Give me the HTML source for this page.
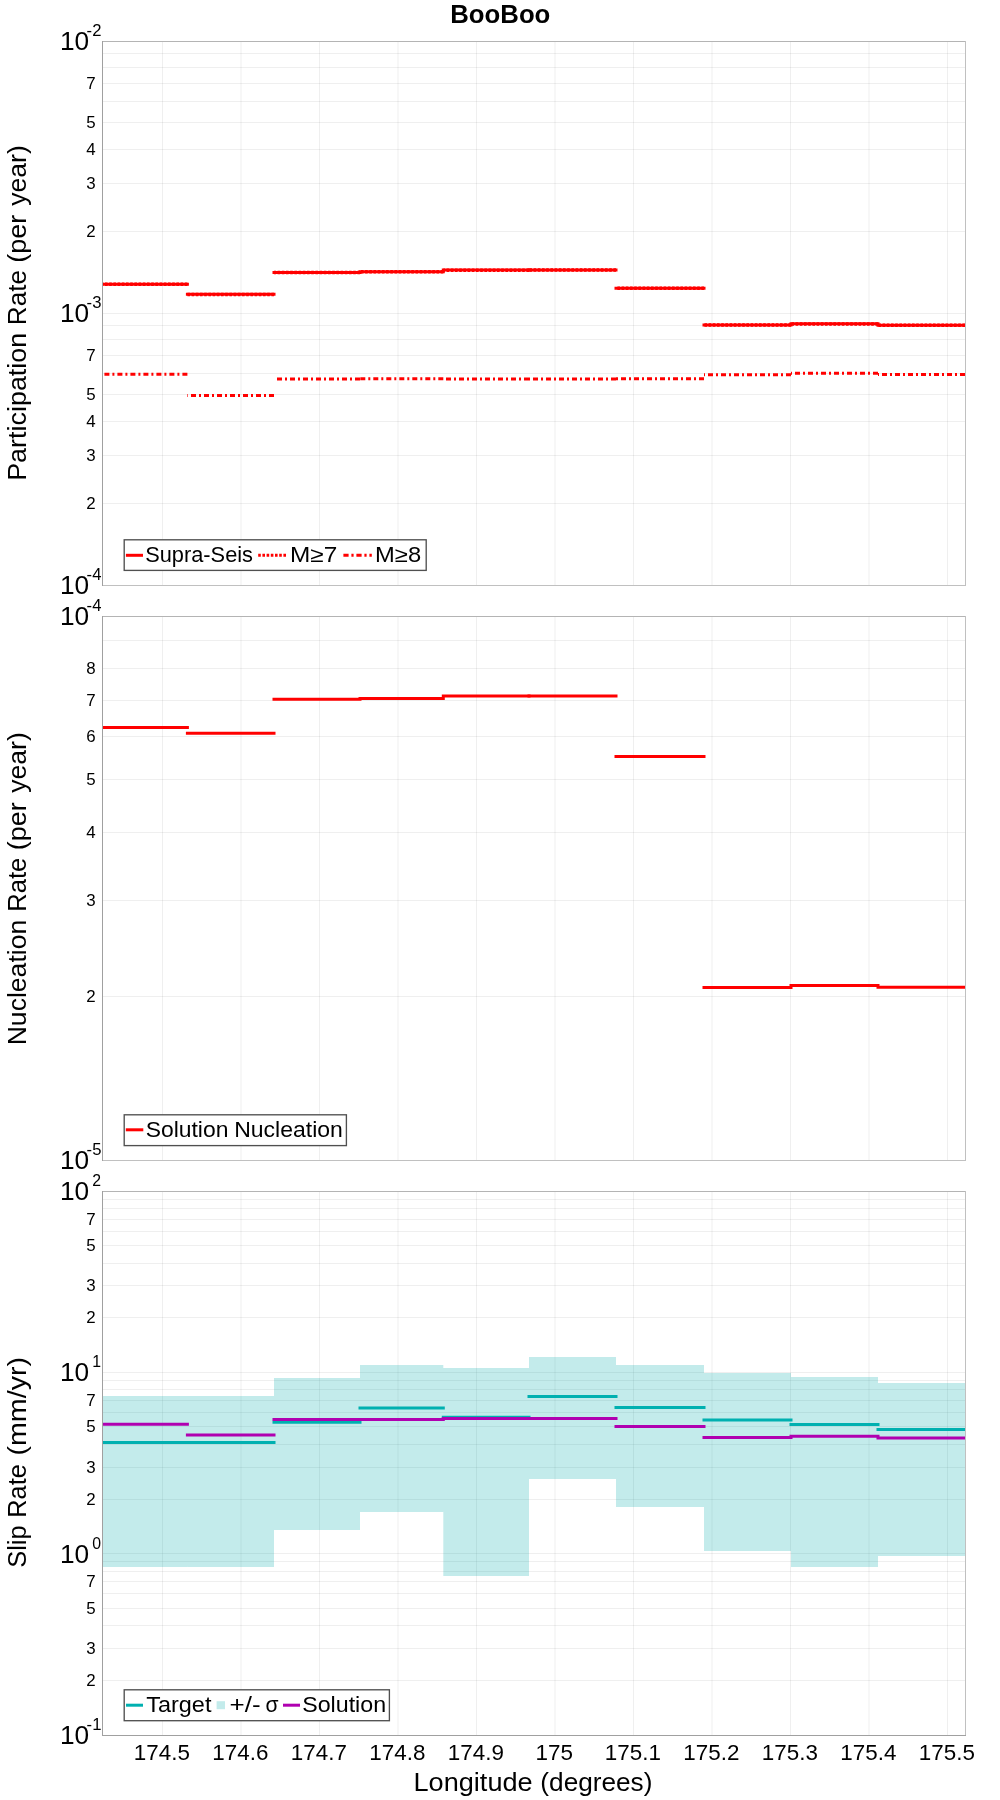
<!DOCTYPE html><html><head><meta charset="utf-8"><style>html,body{margin:0;padding:0;background:#fff;overflow:hidden;}svg{display:block;will-change:transform;}text{font-family:"Liberation Sans",sans-serif;fill:#000;}</style></head><body>
<svg width="1000" height="1800" viewBox="0 0 1000 1800">
<rect x="0" y="0" width="1000" height="1800" fill="#fff"/>
<path d="M103 503.5H965M103 455.5H965M103 421.5H965M103 394.5H965M103 373.5H965M103 355.5H965M103 339.5H965M103 325.5H965M103 313.5H965M103 231.5H965M103 183.5H965M103 149.5H965M103 122.5H965M103 101.5H965M103 83.5H965M103 67.5H965M103 53.5H965M162.5 42V585M241.0 42V585M319.5 42V585M398.0 42V585M476.5 42V585M555.0 42V585M633.5 42V585M712.0 42V585M790.5 42V585M869.0 42V585M947.5 42V585" stroke="rgba(110,110,110,0.115)" stroke-width="1" fill="none"/>
<path d="M103 996.5H965M103 900.5H965M103 832.5H965M103 779.5H965M103 736.5H965M103 700.5H965M103 668.5H965M103 640.5H965M162.5 617V1160M241.0 617V1160M319.5 617V1160M398.0 617V1160M476.5 617V1160M555.0 617V1160M633.5 617V1160M712.0 617V1160M790.5 617V1160M869.0 617V1160M947.5 617V1160" stroke="rgba(110,110,110,0.115)" stroke-width="1" fill="none"/>
<path d="M103 1680.5H965M103 1648.5H965M103 1625.5H965M103 1608.5H965M103 1593.5H965M103 1581.5H965M103 1571.5H965M103 1561.5H965M103 1553.5H965M103 1499.5H965M103 1467.5H965M103 1444.5H965M103 1426.5H965M103 1412.5H965M103 1400.5H965M103 1389.5H965M103 1380.5H965M103 1372.5H965M103 1317.5H965M103 1285.5H965M103 1263.5H965M103 1245.5H965M103 1231.5H965M103 1219.5H965M103 1208.5H965M103 1199.5H965M162.5 1192V1735M241.0 1192V1735M319.5 1192V1735M398.0 1192V1735M476.5 1192V1735M555.0 1192V1735M633.5 1192V1735M712.0 1192V1735M790.5 1192V1735M869.0 1192V1735M947.5 1192V1735" stroke="rgba(110,110,110,0.115)" stroke-width="1" fill="none"/>
<clipPath id="c1"><rect x="102" y="41" width="863" height="544"/></clipPath>
<clipPath id="c2"><rect x="102" y="616" width="863" height="544"/></clipPath>
<clipPath id="c3"><rect x="102" y="1191" width="863" height="544"/></clipPath>
<g clip-path="url(#c1)">
<path d="M102 284.2H187.4" stroke="#ff0000" stroke-width="3" stroke-linecap="square" fill="none"/>
<path d="M187.4 294.3H274" stroke="#ff0000" stroke-width="3" stroke-linecap="square" fill="none"/>
<path d="M274 272.4H360" stroke="#ff0000" stroke-width="3" stroke-linecap="square" fill="none"/>
<path d="M360 271.7H443.3" stroke="#ff0000" stroke-width="3" stroke-linecap="square" fill="none"/>
<path d="M443.3 270.1H529" stroke="#ff0000" stroke-width="3" stroke-linecap="square" fill="none"/>
<path d="M529 270.0H616" stroke="#ff0000" stroke-width="3" stroke-linecap="square" fill="none"/>
<path d="M616 288.2H704" stroke="#ff0000" stroke-width="3" stroke-linecap="square" fill="none"/>
<path d="M704 324.9H791" stroke="#ff0000" stroke-width="3" stroke-linecap="square" fill="none"/>
<path d="M791 323.8H878" stroke="#ff0000" stroke-width="3" stroke-linecap="square" fill="none"/>
<path d="M878 325.2H965" stroke="#ff0000" stroke-width="3" stroke-linecap="square" fill="none"/>
<path d="M187.4 284.3H102" stroke="#ff0000" stroke-width="3.5" stroke-dasharray="2.6 1.6" fill="none"/>
<path d="M274 294.40000000000003H187.4" stroke="#ff0000" stroke-width="3.5" stroke-dasharray="2.6 1.6" fill="none"/>
<path d="M360 272.5H274" stroke="#ff0000" stroke-width="3.5" stroke-dasharray="2.6 1.6" fill="none"/>
<path d="M443.3 271.8H360" stroke="#ff0000" stroke-width="3.5" stroke-dasharray="2.6 1.6" fill="none"/>
<path d="M529 270.20000000000005H443.3" stroke="#ff0000" stroke-width="3.5" stroke-dasharray="2.6 1.6" fill="none"/>
<path d="M616 270.1H529" stroke="#ff0000" stroke-width="3.5" stroke-dasharray="2.6 1.6" fill="none"/>
<path d="M704 288.3H616" stroke="#ff0000" stroke-width="3.5" stroke-dasharray="2.6 1.6" fill="none"/>
<path d="M791 325.0H704" stroke="#ff0000" stroke-width="3.5" stroke-dasharray="2.6 1.6" fill="none"/>
<path d="M878 323.90000000000003H791" stroke="#ff0000" stroke-width="3.5" stroke-dasharray="2.6 1.6" fill="none"/>
<path d="M965 325.3H878" stroke="#ff0000" stroke-width="3.5" stroke-dasharray="2.6 1.6" fill="none"/>
<path d="M187.4 374.3H102" stroke="#ff0000" stroke-width="3" stroke-dasharray="5 3 2 3" fill="none"/>
<path d="M274 395.6H187.4" stroke="#ff0000" stroke-width="3" stroke-dasharray="5 3 2 3" fill="none"/>
<path d="M360 379.0H274" stroke="#ff0000" stroke-width="3" stroke-dasharray="5 3 2 3" fill="none"/>
<path d="M443.3 378.8H360" stroke="#ff0000" stroke-width="3" stroke-dasharray="5 3 2 3" fill="none"/>
<path d="M529 379.0H443.3" stroke="#ff0000" stroke-width="3" stroke-dasharray="5 3 2 3" fill="none"/>
<path d="M616 379.0H529" stroke="#ff0000" stroke-width="3" stroke-dasharray="5 3 2 3" fill="none"/>
<path d="M704 378.8H616" stroke="#ff0000" stroke-width="3" stroke-dasharray="5 3 2 3" fill="none"/>
<path d="M791 374.8H704" stroke="#ff0000" stroke-width="3" stroke-dasharray="5 3 2 3" fill="none"/>
<path d="M878 373.3H791" stroke="#ff0000" stroke-width="3" stroke-dasharray="5 3 2 3" fill="none"/>
<path d="M965 374.6H878" stroke="#ff0000" stroke-width="3" stroke-dasharray="5 3 2 3" fill="none"/>
</g>
<g clip-path="url(#c2)">
<path d="M102 727.5H187.4" stroke="#ff0000" stroke-width="3" stroke-linecap="square" fill="none"/>
<path d="M187.4 733.2H274" stroke="#ff0000" stroke-width="3" stroke-linecap="square" fill="none"/>
<path d="M274 699.2H360" stroke="#ff0000" stroke-width="3" stroke-linecap="square" fill="none"/>
<path d="M360 698.6H443.3" stroke="#ff0000" stroke-width="3" stroke-linecap="square" fill="none"/>
<path d="M443.3 696.0H529" stroke="#ff0000" stroke-width="3" stroke-linecap="square" fill="none"/>
<path d="M529 696.0H616" stroke="#ff0000" stroke-width="3" stroke-linecap="square" fill="none"/>
<path d="M616 756.6H704" stroke="#ff0000" stroke-width="3" stroke-linecap="square" fill="none"/>
<path d="M704 987.4H791" stroke="#ff0000" stroke-width="3" stroke-linecap="square" fill="none"/>
<path d="M791 985.5H878" stroke="#ff0000" stroke-width="3" stroke-linecap="square" fill="none"/>
<path d="M878 987.3H965" stroke="#ff0000" stroke-width="3" stroke-linecap="square" fill="none"/>
</g>
<g clip-path="url(#c3)">
<path d="M102 1396H187.4V1567H102ZM187.4 1396H274V1567H187.4ZM274 1378H360V1530H274ZM360 1365H443.3V1512H360ZM443.3 1368H529V1576H443.3ZM529 1357H616V1479H529ZM616 1365H704V1507H616ZM704 1373H791V1551H704ZM791 1377H878V1567H791ZM878 1383H965V1556H878Z" fill="rgb(0,172,172)" fill-opacity="0.235"/>
<path d="M102 1442.4H274" stroke="#00b0b0" stroke-width="3" stroke-linecap="square" fill="none"/>
<path d="M274 1422.3H360" stroke="#00b0b0" stroke-width="3" stroke-linecap="square" fill="none"/>
<path d="M360 1408.1H443.3" stroke="#00b0b0" stroke-width="3" stroke-linecap="square" fill="none"/>
<path d="M443.3 1417.3H529" stroke="#00b0b0" stroke-width="3" stroke-linecap="square" fill="none"/>
<path d="M529 1396.4H616" stroke="#00b0b0" stroke-width="3" stroke-linecap="square" fill="none"/>
<path d="M616 1407.4H704" stroke="#00b0b0" stroke-width="3" stroke-linecap="square" fill="none"/>
<path d="M704 1420.1H791" stroke="#00b0b0" stroke-width="3" stroke-linecap="square" fill="none"/>
<path d="M791 1424.4H878" stroke="#00b0b0" stroke-width="3" stroke-linecap="square" fill="none"/>
<path d="M878 1429.4H965" stroke="#00b0b0" stroke-width="3" stroke-linecap="square" fill="none"/>
<path d="M102 1424.2H187.4" stroke="#b000b0" stroke-width="3" stroke-linecap="square" fill="none"/>
<path d="M187.4 1435.0H274" stroke="#b000b0" stroke-width="3" stroke-linecap="square" fill="none"/>
<path d="M274 1419.4H360" stroke="#b000b0" stroke-width="3" stroke-linecap="square" fill="none"/>
<path d="M360 1419.5H443.3" stroke="#b000b0" stroke-width="3" stroke-linecap="square" fill="none"/>
<path d="M443.3 1418.4H529" stroke="#b000b0" stroke-width="3" stroke-linecap="square" fill="none"/>
<path d="M529 1418.4H616" stroke="#b000b0" stroke-width="3" stroke-linecap="square" fill="none"/>
<path d="M616 1426.4H704" stroke="#b000b0" stroke-width="3" stroke-linecap="square" fill="none"/>
<path d="M704 1437.6H791" stroke="#b000b0" stroke-width="3" stroke-linecap="square" fill="none"/>
<path d="M791 1436.2H878" stroke="#b000b0" stroke-width="3" stroke-linecap="square" fill="none"/>
<path d="M878 1438.0H965" stroke="#b000b0" stroke-width="3" stroke-linecap="square" fill="none"/>
</g>
<path d="M102 41.5H966" stroke="#b4b4b4" stroke-width="1"/>
<path d="M965.5 41V586" stroke="#c0c0c0" stroke-width="1"/>
<path d="M102 585.5H966" stroke="#c0c0c0" stroke-width="1"/>
<path d="M102.5 41V586" stroke="#a0a0a0" stroke-width="1"/>
<path d="M102 616.5H966" stroke="#b4b4b4" stroke-width="1"/>
<path d="M965.5 616V1161" stroke="#c0c0c0" stroke-width="1"/>
<path d="M102 1160.5H966" stroke="#c0c0c0" stroke-width="1"/>
<path d="M102.5 616V1161" stroke="#a0a0a0" stroke-width="1"/>
<path d="M102 1191.5H966" stroke="#b4b4b4" stroke-width="1"/>
<path d="M965.5 1191V1736" stroke="#c0c0c0" stroke-width="1"/>
<path d="M102 1735.5H966" stroke="#a0a0a0" stroke-width="1"/>
<path d="M102.5 1191V1736" stroke="#a0a0a0" stroke-width="1"/>
<text x="60.0" y="49.85" font-size="25.5" textLength="29.2" lengthAdjust="spacingAndGlyphs" >10</text>
<text x="86.6" y="35.85" font-size="16.3" textLength="14.8" lengthAdjust="spacingAndGlyphs" >-2</text>
<text x="60.0" y="321.85" font-size="25.5" textLength="29.2" lengthAdjust="spacingAndGlyphs" >10</text>
<text x="86.6" y="307.85" font-size="16.3" textLength="14.8" lengthAdjust="spacingAndGlyphs" >-3</text>
<text x="60.0" y="593.85" font-size="25.5" textLength="29.2" lengthAdjust="spacingAndGlyphs" >10</text>
<text x="86.6" y="579.85" font-size="16.3" textLength="14.8" lengthAdjust="spacingAndGlyphs" >-4</text>
<text x="95.6" y="360.6333331161221" font-size="16.9" text-anchor="end" >7</text>
<text x="95.6" y="400.3801588206029" font-size="16.9" text-anchor="end" >5</text>
<text x="95.6" y="426.7396823587942" font-size="16.9" text-anchor="end" >4</text>
<text x="95.6" y="460.7230187162518" font-size="16.9" text-anchor="end" >3</text>
<text x="95.6" y="508.6198411793971" font-size="16.9" text-anchor="end" >2</text>
<text x="95.6" y="88.63333311612212" font-size="16.9" text-anchor="end" >7</text>
<text x="95.6" y="128.3801588206029" font-size="16.9" text-anchor="end" >5</text>
<text x="95.6" y="154.7396823587942" font-size="16.9" text-anchor="end" >4</text>
<text x="95.6" y="188.72301871625177" font-size="16.9" text-anchor="end" >3</text>
<text x="95.6" y="236.6198411793971" font-size="16.9" text-anchor="end" >2</text>
<text x="60.0" y="624.85" font-size="25.5" textLength="29.2" lengthAdjust="spacingAndGlyphs" >10</text>
<text x="86.6" y="610.85" font-size="16.3" textLength="14.8" lengthAdjust="spacingAndGlyphs" >-4</text>
<text x="60.0" y="1168.85" font-size="25.5" textLength="29.2" lengthAdjust="spacingAndGlyphs" >10</text>
<text x="86.6" y="1154.85" font-size="16.3" textLength="14.8" lengthAdjust="spacingAndGlyphs" >-5</text>
<text x="95.6" y="674.2190470763826" font-size="16.9" text-anchor="end" >8</text>
<text x="95.6" y="705.7666662322442" font-size="16.9" text-anchor="end" >7</text>
<text x="95.6" y="742.1857197912977" font-size="16.9" text-anchor="end" >6</text>
<text x="95.6" y="785.2603176412058" font-size="16.9" text-anchor="end" >5</text>
<text x="95.6" y="837.9793647175884" font-size="16.9" text-anchor="end" >4</text>
<text x="95.6" y="905.9460374325035" font-size="16.9" text-anchor="end" >3</text>
<text x="95.6" y="1001.7396823587942" font-size="16.9" text-anchor="end" >2</text>
<text x="60.0" y="1199.85" font-size="25.5" textLength="29.2" lengthAdjust="spacingAndGlyphs" >10</text>
<text x="92.2" y="1185.85" font-size="16.3" textLength="8.8" lengthAdjust="spacingAndGlyphs" >2</text>
<text x="60.0" y="1381.1833333333332" font-size="25.5" textLength="29.2" lengthAdjust="spacingAndGlyphs" >10</text>
<text x="92.2" y="1367.1833333333332" font-size="16.3" textLength="8.8" lengthAdjust="spacingAndGlyphs" >1</text>
<text x="60.0" y="1562.5166666666667" font-size="25.5" textLength="29.2" lengthAdjust="spacingAndGlyphs" >10</text>
<text x="92.2" y="1548.5166666666667" font-size="16.3" textLength="8.8" lengthAdjust="spacingAndGlyphs" >0</text>
<text x="60.0" y="1743.85" font-size="25.5" textLength="29.2" lengthAdjust="spacingAndGlyphs" >10</text>
<text x="86.6" y="1729.85" font-size="16.3" textLength="14.8" lengthAdjust="spacingAndGlyphs" >-1</text>
<text x="95.6" y="1587.255555410748" font-size="16.9" text-anchor="end" >7</text>
<text x="95.6" y="1613.7534392137354" font-size="16.9" text-anchor="end" >5</text>
<text x="95.6" y="1653.9820124775013" font-size="16.9" text-anchor="end" >3</text>
<text x="95.6" y="1685.9132274529316" font-size="16.9" text-anchor="end" >2</text>
<text x="95.6" y="1405.9222220774147" font-size="16.9" text-anchor="end" >7</text>
<text x="95.6" y="1432.420105880402" font-size="16.9" text-anchor="end" >5</text>
<text x="95.6" y="1472.648679144168" font-size="16.9" text-anchor="end" >3</text>
<text x="95.6" y="1504.579894119598" font-size="16.9" text-anchor="end" >2</text>
<text x="95.6" y="1224.5888887440815" font-size="16.9" text-anchor="end" >7</text>
<text x="95.6" y="1251.0867725470687" font-size="16.9" text-anchor="end" >5</text>
<text x="95.6" y="1291.3153458108345" font-size="16.9" text-anchor="end" >3</text>
<text x="95.6" y="1323.2465607862648" font-size="16.9" text-anchor="end" >2</text>
<rect x="124.2" y="539.8" width="302.0" height="30.600000000000023" fill="#fff" stroke="#505050" stroke-width="1.35"/>
<path d="M125.9 555.3H143" stroke="#ff0000" stroke-width="3"/>
<path d="M258.2 555.3H286.5" stroke="#ff0000" stroke-width="3" stroke-dasharray="2.6 1.6"/>
<path d="M343.4 555.3H371.8" stroke="#ff0000" stroke-width="3" stroke-dasharray="5.2 2.8 2.2 2.8"/>
<rect x="124.2" y="1114.8" width="222.2" height="30.799999999999955" fill="#fff" stroke="#505050" stroke-width="1.35"/>
<path d="M125.8 1129.8H143.3" stroke="#ff0000" stroke-width="3"/>
<rect x="124.2" y="1689.8" width="265.2" height="30.90000000000009" fill="#fff" stroke="#505050" stroke-width="1.35"/>
<path d="M126 1705.2H143" stroke="#00b0b0" stroke-width="3"/>
<rect x="216.6" y="1701.2" width="8.4" height="8" fill="rgb(0,172,172)" fill-opacity="0.235"/>
<path d="M283 1705.2H300" stroke="#b000b0" stroke-width="3"/>
<text x="500.30" y="22.8" font-size="24.9" text-anchor="middle" font-weight="bold" textLength="100.09" lengthAdjust="spacingAndGlyphs">BooBoo</text>
<text transform="translate(26,175.50) rotate(-90)" font-size="24.9" text-anchor="middle" textLength="60.49" lengthAdjust="spacingAndGlyphs">year)</text>
<text transform="translate(26,238.75) rotate(-90)" font-size="24.9" text-anchor="middle" textLength="47.99" lengthAdjust="spacingAndGlyphs">(per</text>
<text transform="translate(26,297.65) rotate(-90)" font-size="24.9" text-anchor="middle" textLength="54.99" lengthAdjust="spacingAndGlyphs">Rate</text>
<text transform="translate(26,406.80) rotate(-90)" font-size="24.9" text-anchor="middle" textLength="148.09" lengthAdjust="spacingAndGlyphs">Participation</text>
<text transform="translate(26,762.50) rotate(-90)" font-size="24.9" text-anchor="middle" textLength="60.49" lengthAdjust="spacingAndGlyphs">year)</text>
<text transform="translate(26,826.25) rotate(-90)" font-size="24.9" text-anchor="middle" textLength="47.99" lengthAdjust="spacingAndGlyphs">(per</text>
<text transform="translate(26,884.75) rotate(-90)" font-size="24.9" text-anchor="middle" textLength="53.99" lengthAdjust="spacingAndGlyphs">Rate</text>
<text transform="translate(26,982.55) rotate(-90)" font-size="24.9" text-anchor="middle" textLength="125.59" lengthAdjust="spacingAndGlyphs">Nucleation</text>
<text transform="translate(26,1406.25) rotate(-90)" font-size="24.9" text-anchor="middle" textLength="98.59" lengthAdjust="spacingAndGlyphs">(mm/yr)</text>
<text transform="translate(26,1491.00) rotate(-90)" font-size="24.9" text-anchor="middle" textLength="53.49" lengthAdjust="spacingAndGlyphs">Rate</text>
<text transform="translate(26,1546.55) rotate(-90)" font-size="24.9" text-anchor="middle" textLength="42.39" lengthAdjust="spacingAndGlyphs">Slip</text>
<text x="473.10" y="1791.2" font-size="24.9" text-anchor="middle" textLength="119.09" lengthAdjust="spacingAndGlyphs">Longitude</text>
<text x="596.40" y="1791.2" font-size="24.9" text-anchor="middle" textLength="112.09" lengthAdjust="spacingAndGlyphs">(degrees)</text>
<text x="161.90" y="1759.9" font-size="21.4" text-anchor="middle" textLength="56.04" lengthAdjust="spacingAndGlyphs">174.5</text>
<text x="240.40" y="1759.9" font-size="21.4" text-anchor="middle" textLength="56.04" lengthAdjust="spacingAndGlyphs">174.6</text>
<text x="318.90" y="1759.9" font-size="21.4" text-anchor="middle" textLength="56.04" lengthAdjust="spacingAndGlyphs">174.7</text>
<text x="397.40" y="1759.9" font-size="21.4" text-anchor="middle" textLength="56.04" lengthAdjust="spacingAndGlyphs">174.8</text>
<text x="475.90" y="1759.9" font-size="21.4" text-anchor="middle" textLength="56.04" lengthAdjust="spacingAndGlyphs">174.9</text>
<text x="554.30" y="1759.9" font-size="21.4" text-anchor="middle" textLength="37.49" lengthAdjust="spacingAndGlyphs">175</text>
<text x="632.90" y="1759.9" font-size="21.4" text-anchor="middle" textLength="56.04" lengthAdjust="spacingAndGlyphs">175.1</text>
<text x="711.40" y="1759.9" font-size="21.4" text-anchor="middle" textLength="56.04" lengthAdjust="spacingAndGlyphs">175.2</text>
<text x="789.90" y="1759.9" font-size="21.4" text-anchor="middle" textLength="56.04" lengthAdjust="spacingAndGlyphs">175.3</text>
<text x="868.40" y="1759.9" font-size="21.4" text-anchor="middle" textLength="56.04" lengthAdjust="spacingAndGlyphs">175.4</text>
<text x="946.90" y="1759.9" font-size="21.4" text-anchor="middle" textLength="56.04" lengthAdjust="spacingAndGlyphs">175.5</text>
<text x="199.10" y="561.8" font-size="21.4" text-anchor="middle" textLength="107.82" lengthAdjust="spacingAndGlyphs">Supra-Seis</text>
<text x="313.70" y="561.8" font-size="21.4" text-anchor="middle" textLength="47.22" lengthAdjust="spacingAndGlyphs">M≥7</text>
<text x="398.10" y="561.8" font-size="21.4" text-anchor="middle" textLength="46.02" lengthAdjust="spacingAndGlyphs">M≥8</text>
<text x="187.05" y="1136.6" font-size="21.4" text-anchor="middle" textLength="82.72" lengthAdjust="spacingAndGlyphs">Solution</text>
<text x="288.55" y="1136.6" font-size="21.4" text-anchor="middle" textLength="108.72" lengthAdjust="spacingAndGlyphs">Nucleation</text>
<text x="178.80" y="1711.8" font-size="21.4" text-anchor="middle" textLength="65.22" lengthAdjust="spacingAndGlyphs">Target</text>
<text x="245.10" y="1711.8" font-size="21.4" text-anchor="middle" textLength="31.02" lengthAdjust="spacingAndGlyphs">+/-</text>
<text x="272.10" y="1711.8" font-size="21.4" text-anchor="middle" textLength="13.02" lengthAdjust="spacingAndGlyphs">σ</text>
<text x="344.15" y="1711.8" font-size="21.4" text-anchor="middle" textLength="83.92" lengthAdjust="spacingAndGlyphs">Solution</text>
</svg></body></html>
